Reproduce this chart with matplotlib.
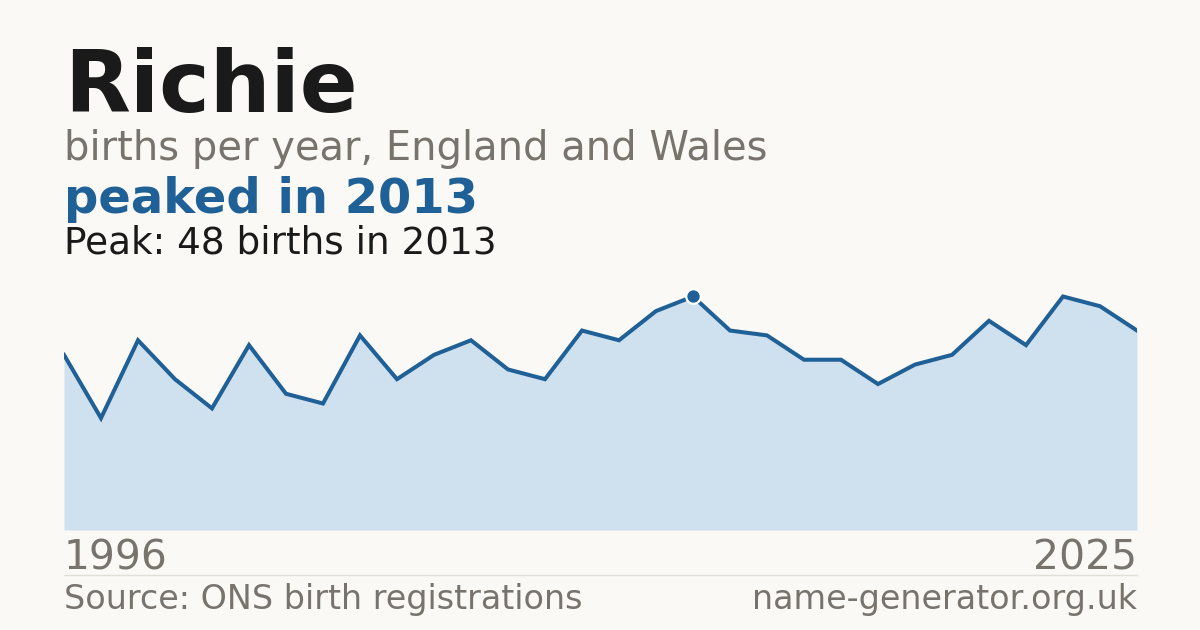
import matplotlib
matplotlib.use('Agg')
import matplotlib.pyplot as plt
from matplotlib.lines import Line2D
import numpy as np

plt.rcParams['font.family'] = ['DejaVu Sans']

years = list(range(1996, 2026))
births = [36, 23, 39, 31, 25, 38, 28, 26, 40, 31,
          36, 39, 33, 31, 41, 39, 45, 48, 41, 40,
          35, 35, 30, 34, 36, 43, 38, 48, 46, 41]
name = 'Richie'
subtitle = 'births per year, England and Wales'
headline = 'peaked in 2013'
peak_year = 2013
peak_value = 48

bg = '#faf9f5'
blue = '#1f6096'
fill = '#cfe0ef'
grey = '#78736c'
dark = '#1a1a1a'

W, H = 1200, 630
fig = plt.figure(figsize=(12, 6.3), dpi=100, facecolor=bg)


def fx(px):
    return px / W


def fy(py):
    return 1 - py / H


# plot area: x 64..1137, y 270..530 px
ax = fig.add_axes([fx(64), fy(530), fx(1137) - fx(64), (530 - 270) / H])
ax.set_facecolor(bg)
ax.fill_between(years, births, 0, color=fill, linewidth=0)
ax.plot(years, births, color=blue, lw=2.9, solid_joinstyle='miter')
ax.plot([peak_year], [peak_value], 'o', color=blue, markersize=10.5,
        markeredgecolor='white', markeredgewidth=1.6, zorder=5, clip_on=False)
ax.set_xlim(years[0], years[-1])
ax.set_ylim(0, 260 / 4.865)
ax.axis('off')

fig.text(fx(64), fy(112), name, fontsize=61.6, fontweight='bold', color=dark, va='baseline')
fig.text(fx(64), fy(160), subtitle, fontsize=28.8, color=grey, va='baseline')
fig.text(fx(64), fy(213), headline, fontsize=34.6, fontweight='bold', color=blue, va='baseline')
fig.text(fx(64), fy(253), 'Peak: %d births in %d' % (peak_value, peak_year),
         fontsize=26.9, color=dark, va='baseline')

fig.text(fx(64), fy(569), str(years[0]), fontsize=29.4, color=grey, va='baseline')
fig.text(fx(1137), fy(569), str(years[-1]), fontsize=29.4, color=grey, va='baseline', ha='right')

fig.add_artist(Line2D([fx(64), fx(1137)], [fy(574.5), fy(574.5)], color='#e2dfd8', lw=1))

fig.text(fx(64), fy(609), 'Source: ONS birth registrations', fontsize=24, color=grey, va='baseline')
fig.text(fx(1137), fy(609), 'name-generator.org.uk', fontsize=24, color=grey, va='baseline', ha='right')

fig.savefig('out.png', dpi=100, facecolor=bg)
